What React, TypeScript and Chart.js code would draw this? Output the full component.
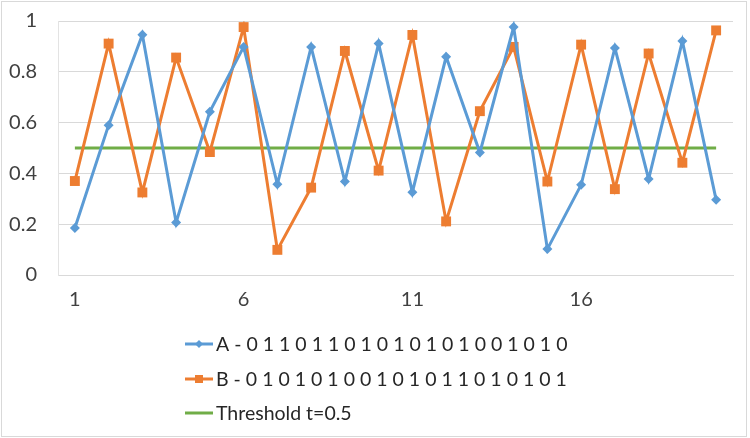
import React, { useEffect, useRef } from "react";
import { Chart, registerables } from "chart.js";

Chart.register(...registerables);

const categories = ["1","2","3","4","5","6","7","8","9","10","11","12","13","14","15","16","17","18","19","20"];
const seriesA = [0.185,0.59,0.946,0.207,0.643,0.898,0.357,0.898,0.368,0.911,0.326,0.859,0.482,0.976,0.102,0.355,0.894,0.378,0.921,0.296];
const seriesB = [0.37,0.911,0.325,0.856,0.484,0.976,0.099,0.344,0.882,0.411,0.945,0.211,0.645,0.898,0.368,0.907,0.338,0.872,0.442,0.963];
const threshold = [0.5,0.5,0.5,0.5,0.5,0.5,0.5,0.5,0.5,0.5,0.5,0.5,0.5,0.5,0.5,0.5,0.5,0.5,0.5,0.5];
const labelA = "A - 0 1 1 0 1 1 0 1 0 1 0 1 0 1 0 0 1 0 1 0";
const labelB = "B - 0 1 0 1 0 1 0 0 1 0 1 0 1 1 0 1 0 1 0 1";
const labelT = "Threshold t=0.5";
const shownXTicks = ["1", "6", "11", "16"];

const FONT = "Lato, 'Liberation Sans', sans-serif";

const framePlugin = {
  id: "frame",
  afterDraw(chart: any) {
    const ctx = chart.ctx;
    ctx.save();
    ctx.strokeStyle = "#d9d9d9";
    ctx.lineWidth = 1;
    ctx.strokeRect(1.5, 1.5, 745, 435);
    // custom vertical legend
    const rows = [344, 379, 413];
    const x0 = 185;
    const x1 = 213;
    chart.data.datasets.forEach((ds: any, i: number) => {
      const y = rows[i];
      ctx.strokeStyle = ds.borderColor;
      ctx.lineWidth = 3;
      ctx.beginPath();
      ctx.moveTo(x0, y);
      ctx.lineTo(x1, y);
      ctx.stroke();
      ctx.fillStyle = ds.borderColor;
      const cx = (x0 + x1) / 2;
      if (ds.pointStyle === "rectRot") {
        ctx.beginPath();
        ctx.moveTo(cx, y - 4);
        ctx.lineTo(cx + 4, y);
        ctx.lineTo(cx, y + 4);
        ctx.lineTo(cx - 4, y);
        ctx.closePath();
        ctx.fill();
      } else if (ds.pointStyle === "rect") {
        ctx.fillRect(cx - 4, y - 4, 8, 8);
      }
      ctx.fillStyle = "#262626";
      ctx.font = `19.5px ${FONT}`;
      ctx.textBaseline = "middle";
      ctx.textAlign = "left";
      ctx.fillText(ds.label, 216, y + 1);
    });
    ctx.restore();
  },
};

export default function App() {
  const ref = useRef<HTMLCanvasElement | null>(null);
  useEffect(() => {
    document.body.style.margin = "0";
    const chart = new Chart(ref.current as HTMLCanvasElement, {
      type: "line",
      data: {
        labels: categories,
        datasets: [
          {
            label: labelA,
            data: seriesA,
            borderColor: "#5b9bd5",
            backgroundColor: "#5b9bd5",
            borderWidth: 3,
            pointStyle: "rectRot",
            pointRadius: 5,
            pointBorderWidth: 0,
            tension: 0,
          },
          {
            label: labelB,
            data: seriesB,
            borderColor: "#ed7d31",
            backgroundColor: "#ed7d31",
            borderWidth: 3,
            pointStyle: "rect",
            pointRadius: 7,
            pointBorderWidth: 0,
            tension: 0,
          },
          {
            label: labelT,
            data: threshold,
            borderColor: "#70ad47",
            backgroundColor: "#70ad47",
            borderWidth: 3,
            pointRadius: 0,
            tension: 0,
          },
        ],
      },
      plugins: [framePlugin],
      options: {
        animation: false,
        responsive: false,
        layout: { padding: { left: 0, right: 17, top: 21, bottom: 0 } },
        plugins: { legend: { display: false }, tooltip: { enabled: false } },
        scales: {
          x: {
            offset: true,
            grid: { display: false, drawTicks: false },
            border: { display: true, color: "#d9d9d9", width: 1 },
            ticks: {
              autoSkip: false,
              maxRotation: 0,
              padding: 13,
              color: "#404040",
              font: { family: FONT, size: 20 },
              callback: function (this: any, _v: any, i: number) {
                const l = categories[i];
                return shownXTicks.includes(l) ? l : "";
              },
            },
            afterFit: (s: any) => {
              s.height = 163;
              s.paddingLeft = 0;
              s.paddingRight = 0;
            },
          },
          y: {
            min: 0,
            max: 1,
            grid: { color: "#d9d9d9", drawTicks: false },
            border: { display: true, color: "#e3e3e3" },
            ticks: {
              stepSize: 0.2,
              padding: 21,
              color: "#404040",
              font: { family: FONT, size: 20 },
              callback: (v: any) => `${+Number(v).toFixed(1)}`,
            },
            afterFit: (s: any) => {
              s.width = 58;
              s.paddingTop = 0;
              s.paddingBottom = 0;
            },
          },
        },
      },
    });
    return () => chart.destroy();
  }, []);
  return <canvas ref={ref} width={750} height={438} style={{ display: "block" }} />;
}
